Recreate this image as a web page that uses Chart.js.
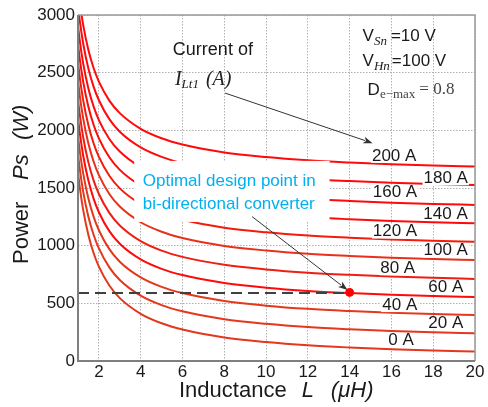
<!DOCTYPE html>
<html>
<head>
<meta charset="utf-8">
<script src="https://cdn.jsdelivr.net/npm/chart.js@4.4.0/dist/chart.umd.min.js"></script>
<style>
html, body { margin: 0; padding: 0; background: #fff; }
#wrap { width: 488px; height: 407px; }
</style>
</head>
<body>
<div id="wrap"><canvas id="grafico" width="488" height="407"></canvas></div>
<script>
/*global Chart*/

// Inductance L (uH) where the curves were read
var inductance = [1, 1.1, 1.25, 1.5, 1.75, 2, 2.5, 3, 4, 5, 6, 8, 10, 12, 14, 16, 18, 20];

// Current of I_Lt1 (A), one curve each
var currents = [0, 20, 40, 60, 80, 100, 120, 140, 160, 180, 200];

// Power Ps (W) for each curve
var power0A = [1635, 1486, 1308, 1090, 934, 818, 654, 545, 409, 327, 273, 204, 164, 136, 117, 102, 91, 82];
var power20A = [1793, 1644, 1466, 1248, 1092, 976, 812, 703, 567, 485, 431, 362, 322, 294, 275, 260, 249, 240];
var power40A = [1951, 1802, 1624, 1406, 1250, 1134, 970, 861, 725, 643, 589, 520, 480, 452, 433, 418, 407, 398];
var power60A = [2107, 1958, 1780, 1562, 1406, 1290, 1126, 1017, 881, 799, 745, 676, 636, 608, 589, 574, 563, 554];
var power80A = [2265, 2116, 1938, 1720, 1564, 1448, 1284, 1175, 1039, 957, 903, 834, 794, 766, 747, 732, 721, 712];
var power100A = [2429, 2280, 2102, 1884, 1728, 1612, 1448, 1339, 1203, 1121, 1067, 998, 958, 930, 911, 896, 885, 876];
var power120A = [2587, 2438, 2260, 2042, 1886, 1770, 1606, 1497, 1361, 1279, 1225, 1156, 1116, 1088, 1069, 1054, 1043, 1034];
var power140A = [2747, 2598, 2420, 2202, 2046, 1930, 1766, 1657, 1521, 1439, 1385, 1316, 1276, 1248, 1229, 1214, 1203, 1194];
var power160A = [2906, 2757, 2579, 2361, 2205, 2089, 1925, 1816, 1680, 1598, 1544, 1475, 1435, 1407, 1388, 1373, 1362, 1353];
var power180A = [3078, 2929, 2751, 2533, 2377, 2261, 2097, 1988, 1852, 1770, 1716, 1647, 1607, 1579, 1560, 1545, 1534, 1525];
var power200A = [3239, 3090, 2912, 2694, 2538, 2422, 2258, 2149, 2013, 1931, 1877, 1808, 1768, 1740, 1721, 1706, 1695, 1686];

// Optimal design point and its dashed guide
var designL = [1, 14];
var designP = [590, 590];
var optimalL = [14];
var optimalP = [595];

// Tick labels
var xTicks = [2, 4, 6, 8, 10, 12, 14, 16, 18, 20];
var yTicks = [0, 500, 1000, 1500, 2000, 2500, 3000];

var powerSeries = [power0A, power20A, power40A, power60A, power80A, power100A,
    power120A, power140A, power160A, power180A, power200A];
var curveColors = ["#e3381c", "#e3381c", "#e3381c", "#ff0a0a", "#ef1e12", "#e8301a",
    "#f51a0a", "#ff0a0a", "#ff0a0a", "#ff0a0a", "#ff0a0a"];

// where each "xx A" label sits (data coordinates)
var labelSpots = [
    [16.46, 181], [18.6, 326], [16.4, 485], [18.6, 639], [16.3, 804], [18.6, 957],
    [16.17, 1122], [18.59, 1275], [16.17, 1460], [18.6, 1585], [16.13, 1779]
];

var SANS = "'Liberation Sans', Arial, sans-serif";
var SERIF = "'Liberation Serif', 'Times New Roman', serif";

function toPoints(xs, ys) {
    "use strict";
    return xs.map(function (x, i) {
        return {x: x, y: ys[i]};
    });
}

function drawRuns(ctx, runs, x, y) {
    "use strict";
    ctx.textAlign = "left";
    ctx.textBaseline = "middle";
    runs.forEach(function (r) {
        ctx.font = r.font;
        ctx.fillStyle = r.color || "#1a1a1a";
        x += r.gap || 0;
        ctx.fillText(r.text, x, y + (r.dy || 0));
        x += ctx.measureText(r.text).width;
    });
}

function drawArrow(ctx, x1, y1, x2, y2) {
    "use strict";
    var ang = Math.atan2(y2 - y1, x2 - x1);
    var len = 10;
    ctx.strokeStyle = "#333";
    ctx.fillStyle = "#333";
    ctx.lineWidth = 1;
    ctx.beginPath();
    ctx.moveTo(x1, y1);
    ctx.lineTo(x2 - Math.cos(ang) * len * 0.8, y2 - Math.sin(ang) * len * 0.8);
    ctx.stroke();
    ctx.beginPath();
    ctx.moveTo(x2, y2);
    ctx.lineTo(x2 - len * Math.cos(ang - 0.35), y2 - len * Math.sin(ang - 0.35));
    ctx.lineTo(x2 - len * 0.7 * Math.cos(ang), y2 - len * 0.7 * Math.sin(ang));
    ctx.lineTo(x2 - len * Math.cos(ang + 0.35), y2 - len * Math.sin(ang + 0.35));
    ctx.closePath();
    ctx.fill();
}

var extras = {
    id: "extras",
    afterDatasetsDraw: function (chart) {
        "use strict";
        var ctx = chart.ctx;
        var a = chart.chartArea;
        var px = function (v) { return chart.scales.x.getPixelForValue(v); };
        var py = function (v) { return chart.scales.y.getPixelForValue(v); };
        ctx.save();

        // frame
        ctx.strokeStyle = "#9a9a9a";
        ctx.lineWidth = 1.5;
        ctx.beginPath();
        ctx.moveTo(a.left, a.top);
        ctx.lineTo(a.right, a.top);
        ctx.lineTo(a.right, a.bottom);
        ctx.stroke();
        ctx.strokeStyle = "#7f7f7f";
        ctx.lineWidth = 2;
        ctx.beginPath();
        ctx.moveTo(a.left, a.top);
        ctx.lineTo(a.left, a.bottom);
        ctx.lineTo(a.right, a.bottom);
        ctx.stroke();

        // white box behind the blue note
        ctx.fillStyle = "#fff";
        ctx.fillRect(px(3.69), py(1735), px(13.04) - px(3.69), py(1206) - py(1735));
        drawRuns(ctx, [{text: "Optimal design point in", font: "17px " + SANS, color: "#00b0f0"}], px(4.1), py(1556));
        drawRuns(ctx, [{text: "bi-directional converter", font: "17px " + SANS, color: "#00b0f0"}], px(4.1), py(1362));

        // curve labels
        ctx.font = "17px " + SANS;
        currents.forEach(function (c, i) {
            var t = c + " A";
            var w = ctx.measureText(t).width;
            var cx = px(labelSpots[i][0]);
            var cy = py(labelSpots[i][1]);
            ctx.fillStyle = "#fff";
            ctx.fillRect(cx - w / 2 - 1, cy - 7, w + 2, 14);
            ctx.fillStyle = "#1a1a1a";
            ctx.textAlign = "center";
            ctx.textBaseline = "middle";
            ctx.fillText(t, cx, cy);
        });

        // "Current of I_Lt1 (A)"
        drawRuns(ctx, [{text: "Current of", font: "18px " + SANS}], px(5.54), py(2699));
        drawRuns(ctx, [
            {text: "I", font: "italic 20px " + SERIF, color: "#222"},
            {text: "Lt1", font: "italic 13px " + SERIF, color: "#222", dy: 5},
            {text: "(A)", font: "italic 20px " + SERIF, color: "#222", gap: 7}
        ], px(5.64), py(2438));

        // operating conditions
        drawRuns(ctx, [
            {text: "V", font: "17px " + SANS},
            {text: "Sn", font: "italic 13px " + SERIF, dy: 5},
            {text: "=10 V", font: "17px " + SANS, gap: 4}
        ], px(14.62), py(2814));
        drawRuns(ctx, [
            {text: "V", font: "17px " + SANS},
            {text: "Hn", font: "italic 13px " + SERIF, dy: 5},
            {text: "=100 V", font: "17px " + SANS, gap: 2}
        ], px(14.62), py(2597));
        drawRuns(ctx, [
            {text: "D", font: "17px " + SANS},
            {text: "e\u2212max", font: "13px " + SERIF, color: "#444", dy: 5},
            {text: "= 0.8", font: "17px " + SERIF, color: "#444", gap: 4}
        ], px(14.86), py(2351));

        // arrows
        drawArrow(ctx, px(8.04), py(2323), px(15.1), py(1889));
        drawArrow(ctx, px(9.33), py(1252), px(13.9), py(615));

        // axis titles
        drawRuns(ctx, [
            {text: "Inductance", font: "22px " + SANS},
            {text: "L", font: "italic 22px " + SANS, gap: 15},
            {text: "(\u03bcH)", font: "italic 22px " + SANS, gap: 17}
        ], a.left + 101, 391);
        ctx.translate(22, 264);
        ctx.rotate(-Math.PI / 2);
        drawRuns(ctx, [{text: "Power", font: "22px " + SANS}], 0, 0);
        drawRuns(ctx, [{text: "Ps", font: "italic 22px " + SANS}], 84, 0);
        drawRuns(ctx, [{text: "(W)", font: "italic 22px " + SANS}], 124, 0);

        ctx.restore();
    }
};

var datasets = [{
    data: toPoints(optimalL, optimalP),
    showLine: false,
    pointRadius: 4,
    pointBackgroundColor: "#ff0000",
    pointBorderColor: "#ff0000"
}, {
    data: toPoints(designL, designP),
    borderColor: "#404040",
    borderWidth: 2,
    borderDash: [11, 6],
    pointRadius: 0
}];

powerSeries.forEach(function (series, i) {
    "use strict";
    datasets.push({
        data: toPoints(inductance, series),
        borderColor: curveColors[i],
        borderWidth: 2,
        pointRadius: 0,
        cubicInterpolationMode: "monotone"
    });
});

Chart.defaults.font.family = SANS;
Chart.defaults.font.size = 17;
Chart.defaults.color = "#1a1a1a";

new Chart(document.getElementById("grafico"), {
    type: "line",
    data: {datasets: datasets},
    options: {
        responsive: false,
        animation: false,
        devicePixelRatio: 1,
        layout: {
            padding: {left: 0, right: 13, top: 15, bottom: 0}
        },
        plugins: {
            legend: {display: false},
            tooltip: {enabled: false}
        },
        scales: {
            x: {
                type: "linear",
                min: 1,
                max: 20,
                afterBuildTicks: function (scale) {
                    scale.ticks = xTicks.map(function (v) { return {value: v}; });
                },
                afterFit: function (scale) {
                    scale.height = 46;
                },
                grid: {color: "#b0b0b0", drawTicks: false},
                border: {display: false, dash: [1.5, 1.5]},
                ticks: {
                    padding: 1,
                    callback: function (value) {
                        return String(value);
                    }
                }
            },
            y: {
                min: 0,
                max: 3000,
                afterBuildTicks: function (scale) {
                    scale.ticks = yTicks.map(function (v) { return {value: v}; });
                },
                afterFit: function (scale) {
                    scale.width = 78;
                },
                grid: {color: "#b0b0b0", drawTicks: false},
                border: {display: false, dash: [1.5, 1.5]},
                ticks: {
                    padding: 3,
                    callback: function (value) {
                        return String(value);
                    }
                }
            }
        }
    },
    plugins: [extras]
});
</script>
</body>
</html>
